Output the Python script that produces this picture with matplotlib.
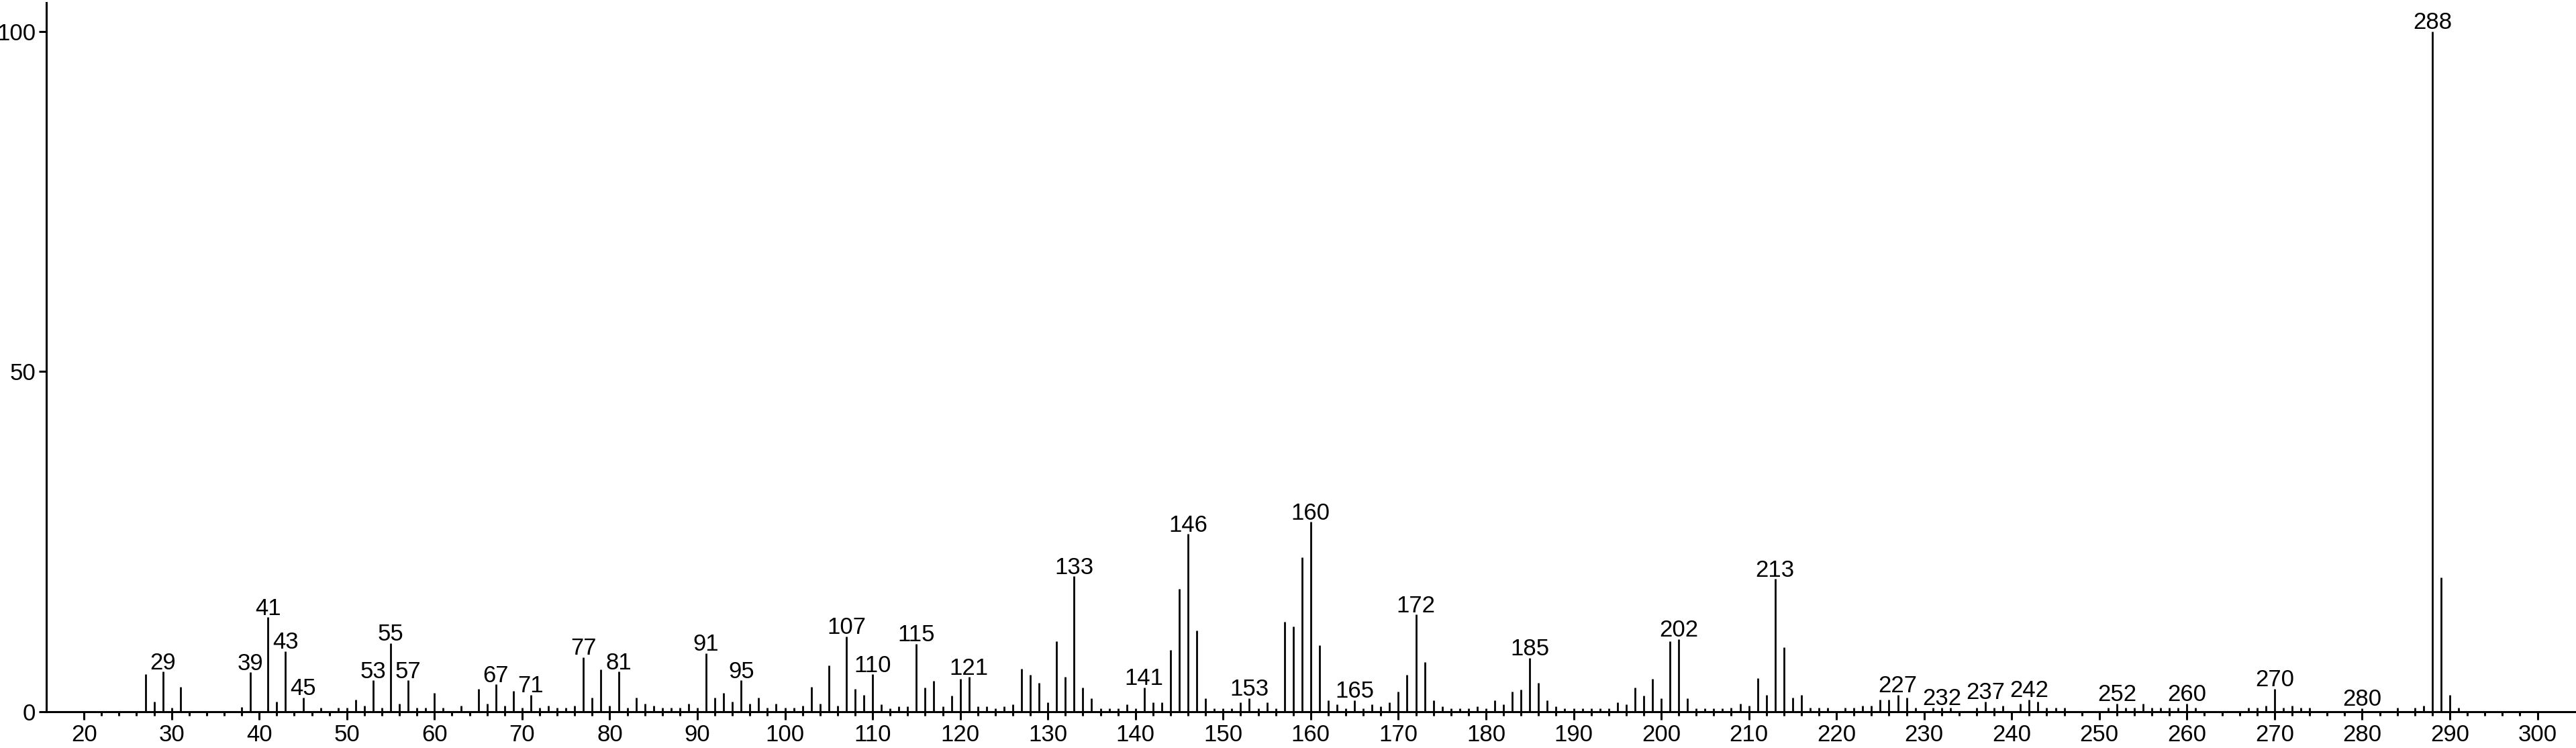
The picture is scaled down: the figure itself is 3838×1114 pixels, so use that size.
import numpy as np
import matplotlib
matplotlib.use("Agg")
from matplotlib import pyplot as plt
from matplotlib.ticker import FixedLocator


# DATOS (m/z e intensidad relativa)
mz = [27, 28, 29, 30, 31, 38, 39, 41, 42, 43, 45, 47, 49, 50, 51, 52, 53, 54, 55, 56,
      57, 58, 59, 60, 61, 63, 65, 66, 67, 68, 69, 70, 71, 72, 73, 74, 75, 76, 77, 78,
      79, 80, 81, 82, 83, 84, 85, 86, 87, 88, 89, 90, 91, 92, 93, 94, 95, 96, 97, 98,
      99, 100, 101, 102, 103, 104, 105, 106, 107, 108, 109, 110, 111, 112, 113, 114, 115, 116, 117, 118,
      119, 120, 121, 122, 123, 124, 125, 126, 127, 128, 129, 130, 131, 132, 133, 134, 135, 136, 137, 138,
      139, 140, 141, 142, 143, 144, 145, 146, 147, 148, 149, 150, 151, 152, 153, 154, 155, 156, 157, 158,
      159, 160, 161, 162, 163, 164, 165, 166, 167, 168, 169, 170, 171, 172, 173, 174, 175, 176, 177, 178,
      179, 180, 181, 182, 183, 184, 185, 186, 187, 188, 189, 190, 191, 192, 193, 194, 195, 196, 197, 198,
      199, 200, 201, 202, 203, 204, 205, 206, 207, 208, 209, 210, 211, 212, 213, 214, 215, 216, 217, 218,
      219, 221, 222, 223, 224, 225, 226, 227, 228, 229, 231, 232, 233, 236, 237, 238, 239, 241, 242, 243,
      244, 245, 246, 251, 252, 253, 254, 255, 256, 257, 258, 259, 260, 261, 267, 268, 269, 270, 271, 272,
      273, 274, 280, 284, 286, 287, 288, 289, 290, 291]
intensity = [5.5, 1.5, 5.9, 0.6, 3.7, 0.7, 5.8, 13.9, 1.5, 8.9, 2.1, 0.6, 0.6, 0.6, 1.8, 0.9, 4.6, 0.6, 10.1, 1.2,
             4.6, 0.6, 0.6, 2.8, 0.6, 0.9, 3.4, 1.2, 4.0, 0.9, 3.1, 0.6, 2.5, 0.6, 0.9, 0.6, 0.6, 0.9, 8.0, 2.1,
             6.2, 0.9, 5.9, 0.6, 2.1, 1.2, 0.9, 0.6, 0.6, 0.6, 1.2, 0.6, 8.6, 2.1, 2.8, 1.5, 4.6, 1.2, 2.1, 0.6,
             1.2, 0.6, 0.6, 0.9, 3.7, 1.2, 6.8, 0.9, 11.1, 3.4, 2.5, 5.5, 1.1, 0.5, 0.8, 0.8, 10.0, 3.6, 4.5, 0.8,
             2.4, 4.8, 5.1, 0.8, 0.8, 0.5, 0.8, 1.1, 6.3, 5.4, 4.2, 1.4, 10.4, 5.1, 19.9, 3.6, 2.0, 0.5, 0.5, 0.5,
             1.1, 0.5, 3.6, 1.4, 1.4, 9.1, 18.1, 26.1, 11.9, 2.0, 0.5, 0.5, 0.5, 1.4, 2.0, 0.5, 1.4, 0.5, 13.2, 12.5,
             22.7, 27.9, 9.8, 1.7, 1.1, 0.5, 1.7, 0.5, 1.1, 0.8, 1.4, 3.0, 5.4, 14.3, 7.3, 1.7, 0.8, 0.5, 0.5, 0.5,
             0.8, 0.5, 1.7, 1.1, 3.0, 3.3, 7.9, 4.2, 1.7, 0.8, 0.5, 0.5, 0.5, 0.5, 0.5, 0.5, 1.4, 1.1, 3.6, 2.4,
             4.8, 2.0, 10.4, 10.7, 2.0, 0.5, 0.5, 0.5, 0.5, 0.6, 1.2, 0.9, 4.9, 2.5, 19.5, 9.5, 2.1, 2.5, 0.6, 0.6,
             0.6, 0.6, 0.6, 0.9, 0.9, 1.8, 1.8, 2.5, 2.1, 0.6, 0.6, 0.6, 0.6, 0.6, 1.5, 0.6, 0.9, 1.2, 1.8, 1.5,
             0.6, 0.6, 0.6, 0.6, 1.2, 0.6, 0.6, 1.2, 0.6, 0.6, 0.6, 0.6, 1.2, 0.6, 0.6, 0.6, 0.9, 3.4, 0.6, 0.9,
             0.6, 0.6, 0.5, 0.6, 0.6, 0.9, 100.0, 19.7, 2.5, 0.6]

# picos etiquetados
labeled = [29, 39, 41, 43, 45, 53, 55, 57, 67, 71, 77, 81, 91, 95, 107, 110, 115, 121,
           133, 141, 146, 153, 160, 165, 172, 185, 202, 213, 227, 232, 237, 242, 252,
           260, 270, 280, 288]

x_ticks = list(range(20, 301, 10))
y_ticks = [0, 50, 100]

plt.rcParams['font.family'] = ['Liberation Sans', 'DejaVu Sans']
plt.rcParams['font.size'] = 25

fig = plt.figure(figsize=(38.38, 11.14), dpi=100)
ax = fig.add_axes([0.01798, 0.04847, 1 - 0.01798, 0.99641 - 0.04847])

# espectro
ax.vlines(mz, 0, intensity, color='black', linewidth=2.0)

peaks = dict(zip(mz, intensity))
for m in labeled:
    ax.annotate(str(m), xy=(m, peaks[m]), xytext=(0, 2.5), textcoords='offset points',
                ha='center', va='baseline', fontsize=25)

ax.set_xlim(15.7, 304.4)
ax.set_ylim(0, 104.2)

ax.spines['top'].set_visible(False)
ax.spines['right'].set_visible(False)
ax.spines['bottom'].set_linewidth(2.2)
ax.spines['left'].set_linewidth(2.2)

ax.set_xticks(x_ticks)
ax.xaxis.set_minor_locator(FixedLocator(list(range(20, 300, 2))))
ax.set_yticks(y_ticks)
ax.tick_params(axis='x', which='major', direction='out', length=8.6, width=2.2, pad=4, labelsize=25)
ax.tick_params(axis='x', which='minor', direction='out', length=4.3, width=2.2)
ax.tick_params(axis='y', which='major', direction='out', length=8, width=2.2, pad=3.5, labelsize=25)

fig.savefig('out.png', dpi=100)
